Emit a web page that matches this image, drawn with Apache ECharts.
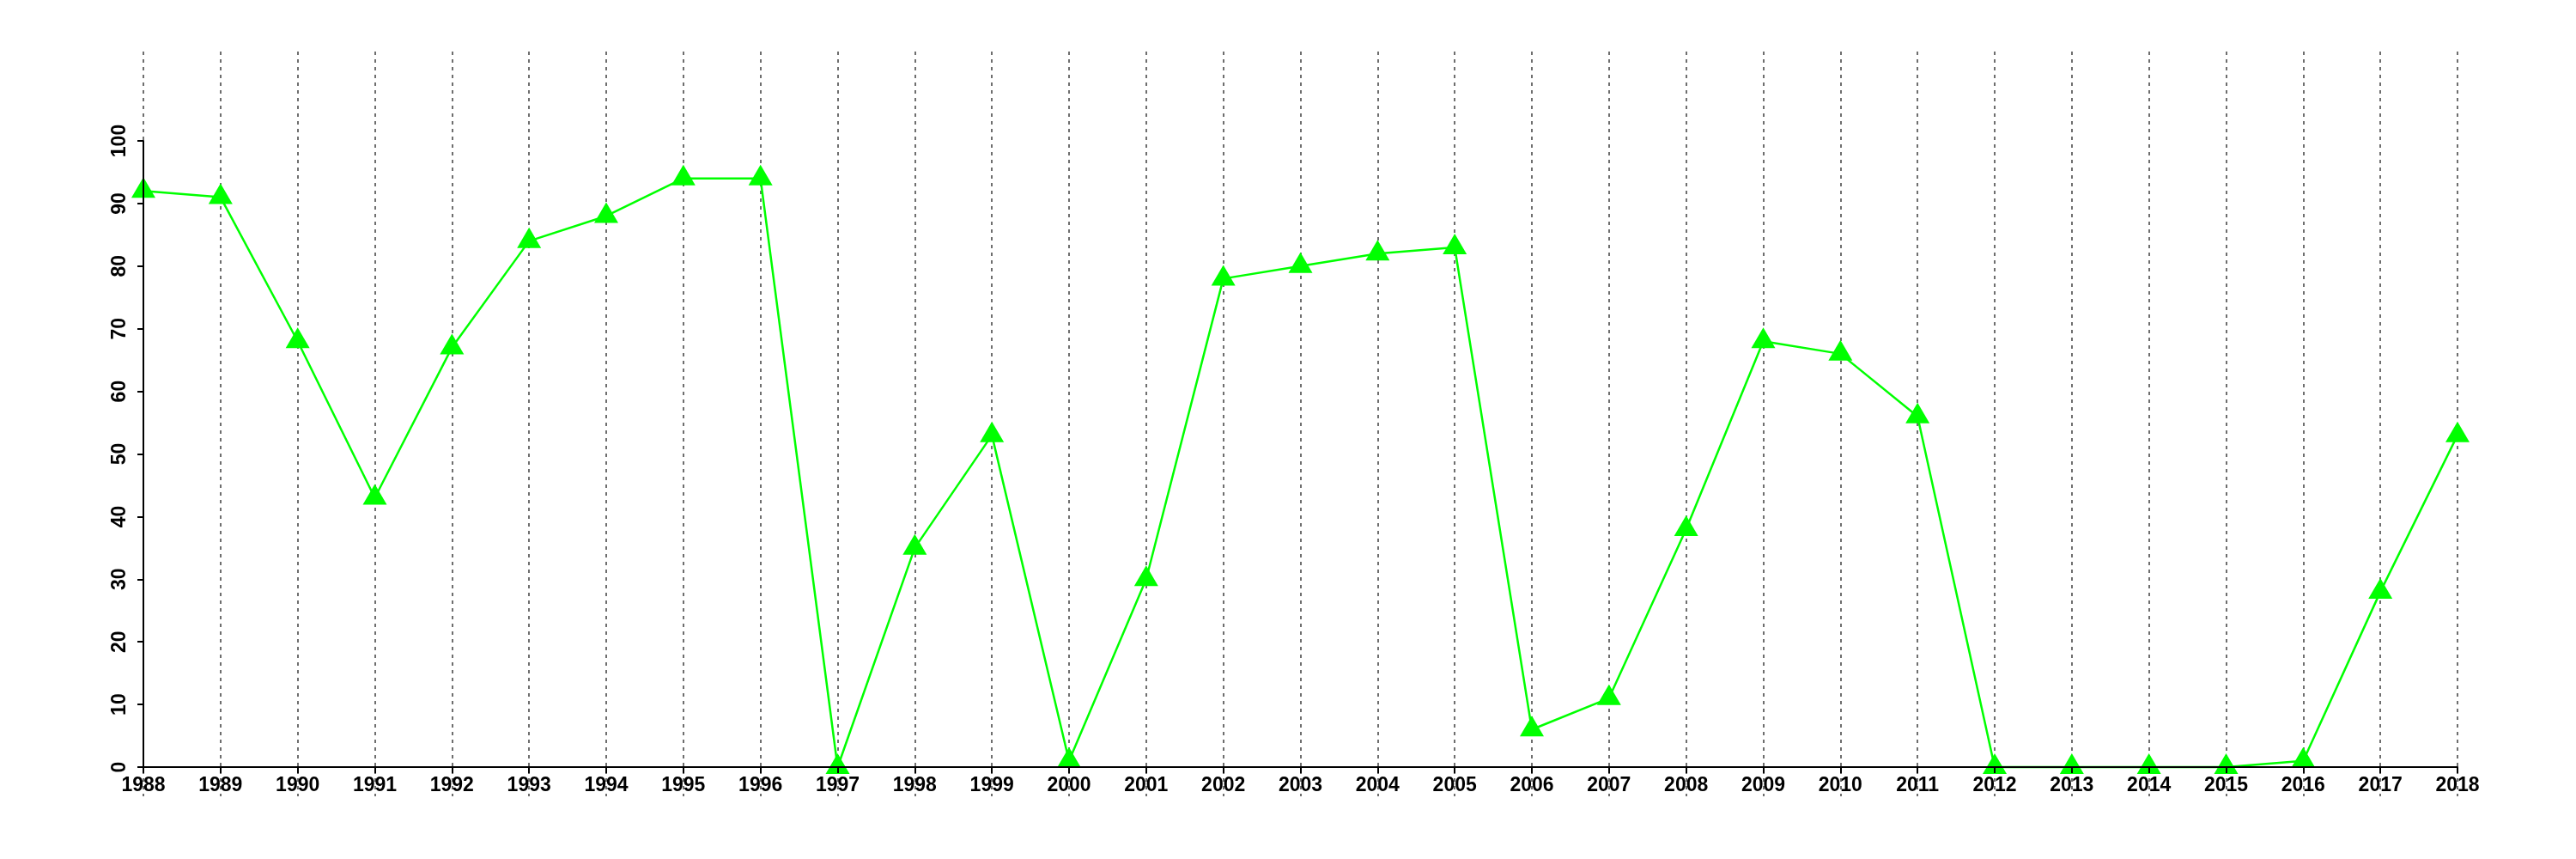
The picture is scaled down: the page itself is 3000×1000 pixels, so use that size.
<!DOCTYPE html>
<html>
<head>
<meta charset="utf-8">
<script src="https://cdn.jsdelivr.net/npm/echarts@6/dist/echarts.min.js"></script>
<style>
html,body{margin:0;padding:0;background:#fff;}
#chart{width:3000px;height:1000px;}
</style>
</head>
<body>
<div id="chart"></div>
<script>
const years = ['1988','1989','1990','1991','1992','1993','1994','1995','1996','1997','1998','1999','2000','2001','2002','2003','2004','2005','2006','2007','2008','2009','2010','2011','2012','2013','2014','2015','2016','2017','2018'];
const values = [92,91,68,43,67,84,88,94,94,0,35,53,1,30,78,80,82,83,6,11,38,68,66,56,0,0,0,0,1,28,53];
const yMin = 0;
const yMax = 100;
const yStep = 10;

const chart = echarts.init(document.getElementById('chart'), null, {renderer:'canvas'});
const font = 'Liberation Sans';
chart.setOption({
  animation: false,
  backgroundColor: '#ffffff',
  grid: [
    {left:167, right:138, top:60, bottom:73},
    {left:167, right:138, top:164, bottom:107}
  ],
  xAxis: [
    {gridIndex:0, type:'category', data:years, boundaryGap:false,
     axisLine:{show:false}, axisTick:{show:false}, axisLabel:{show:false},
     splitLine:{show:true, interval:0, lineStyle:{color:'#6e6e6e', width:2, type:[4,5]}}},
    {gridIndex:1, type:'category', data:years, boundaryGap:false, z:5,
     axisLine:{show:true, lineStyle:{color:'#000', width:2}},
     axisTick:{show:true, interval:0, length:7, lineStyle:{color:'#000', width:2}},
     axisLabel:{show:true, interval:0, color:'#000', fontSize:23, fontWeight:'bold', fontFamily:font, margin:10},
     splitLine:{show:false}}
  ],
  yAxis: [
    {gridIndex:0, type:'value', min:0, max:1, show:false, splitLine:{show:false}},
    {gridIndex:1, type:'value', min:yMin, max:yMax, interval:yStep, z:5,
     axisLine:{show:true, lineStyle:{color:'#000', width:2}},
     axisTick:{show:true, length:7, lineStyle:{color:'#000', width:2}},
     axisLabel:{show:true, rotate:90, color:'#000', fontSize:23, fontWeight:'bold', fontFamily:font, margin:16},
     splitLine:{show:false}}
  ],
  series: [{
    type:'line', xAxisIndex:1, yAxisIndex:1, data:values,
    symbol:'triangle', symbolSize:[28,24], symbolOffset:[0,-4], showAllSymbol:true,
    clip:false,
    lineStyle:{color:'#00ff00', width:2.5},
    itemStyle:{color:'#00ff00'}
  }]
});
</script>
</body>
</html>
